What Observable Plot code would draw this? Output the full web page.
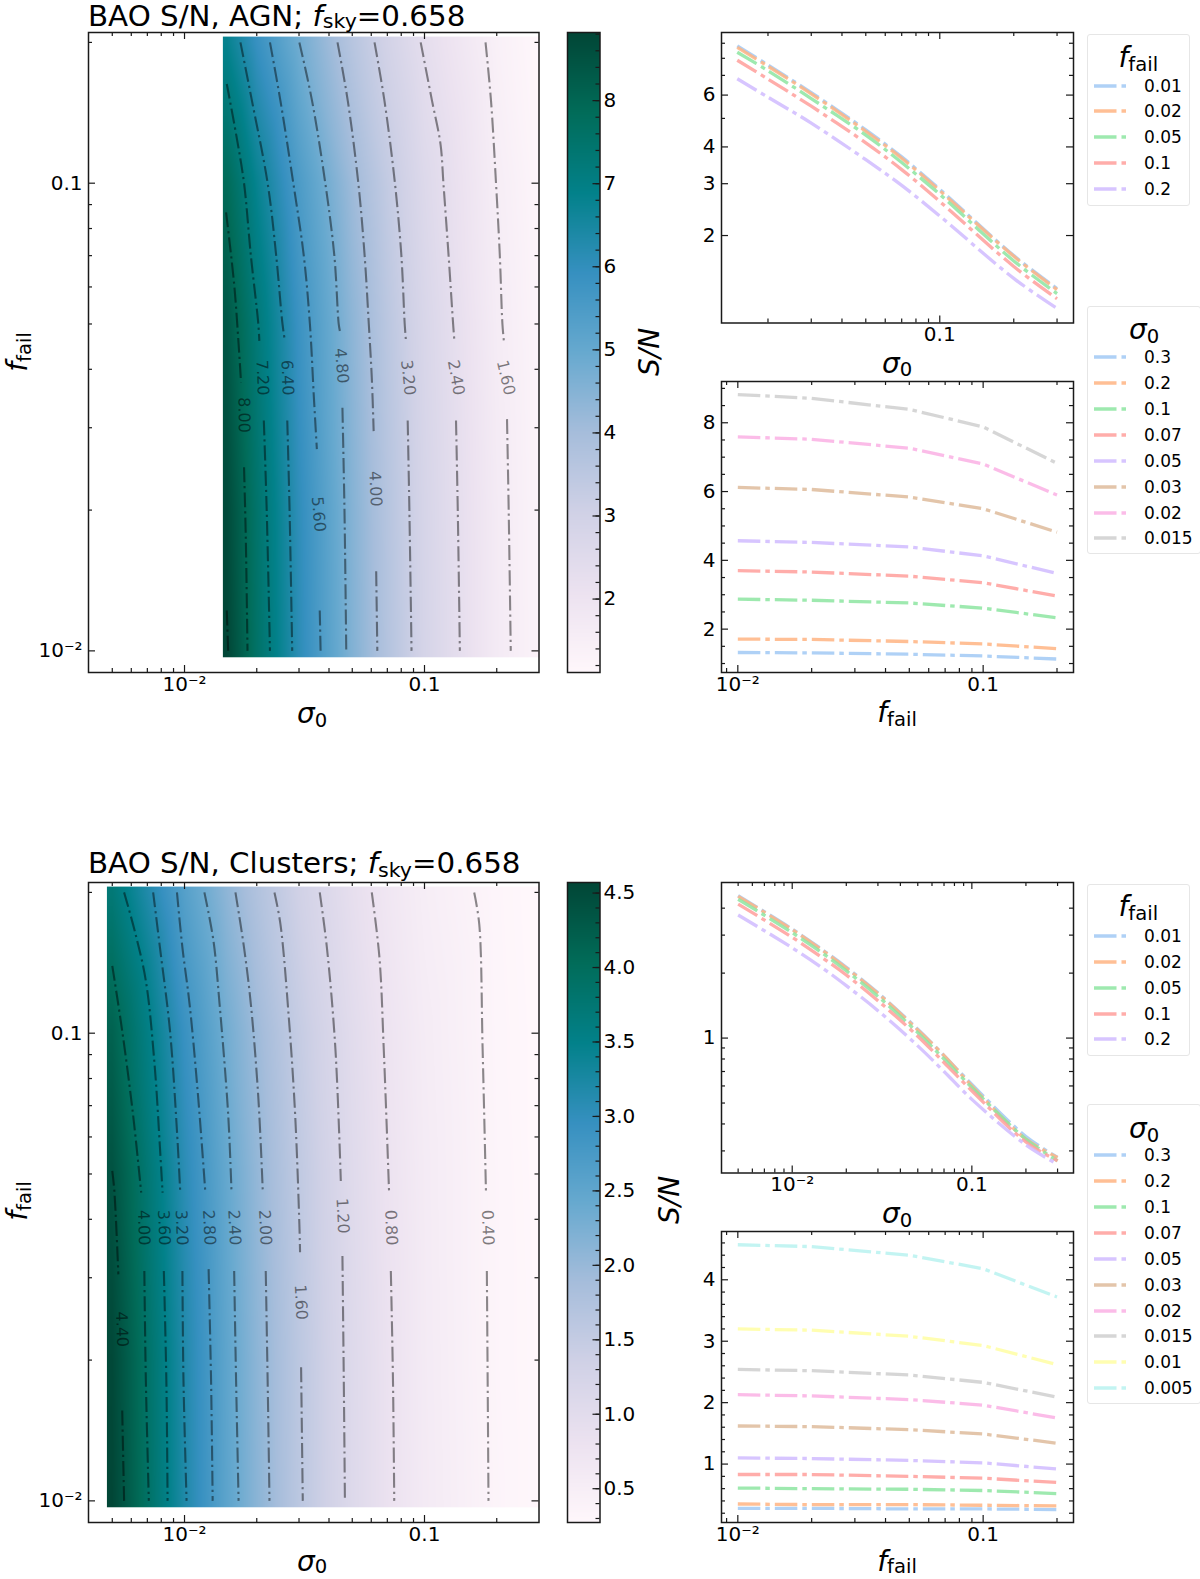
<!DOCTYPE html>
<html>
<head>
<meta charset="utf-8">
<script src="https://cdn.jsdelivr.net/npm/d3@7"></script>
<script src="https://cdn.jsdelivr.net/npm/@observablehq/plot@0.6"></script>
<style>
  html, body { margin: 0; padding: 0; background: #fff; }
  #page { position: relative; width: 1200px; height: 1579px; overflow: hidden; font-family: "DejaVu Sans", sans-serif; color: #000; }
  .txt { position: absolute; white-space: nowrap; line-height: 0.8; }
  .txt sub { font-size: 0.7em; line-height: 0; vertical-align: baseline; position: relative; top: 0.2em; }
  .txt sub.low { top: 0.12em; }
  .legend { position: absolute; box-sizing: border-box; border: 1px solid #e6e6e6; border-radius: 3px; background: #fff; }
</style>
</head>
<body>
<div id="page"></div>
<script>
// values
const fFail = [0.01, 0.02, 0.05, 0.1, 0.2];
const pastel = ["#a1c9f4", "#ffb482", "#8de5a1", "#ff9f9b", "#d0bbff", "#debb9b", "#fab0e4", "#cfcfcf", "#fffea3", "#b9f2f0"];
const puBuGn = ["#fff7fb", "#ece2f0", "#d0d1e6", "#a6bddb", "#67a9cf", "#3690c0", "#02818a", "#016c59", "#014636"];

// S/N per sigma0 (rows), one column per fFail
const agnSigma = [0.3, 0.2, 0.1, 0.07, 0.05, 0.03, 0.02, 0.015];
const agnSn = [
  [1.32, 1.31, 1.27, 1.22, 1.13],
  [1.71, 1.70, 1.64, 1.57, 1.43],
  [2.87, 2.84, 2.76, 2.61, 2.33],
  [3.70, 3.66, 3.54, 3.35, 2.96],
  [4.57, 4.52, 4.39, 4.13, 3.62],
  [6.12, 6.06, 5.84, 5.50, 4.82],
  [7.59, 7.52, 7.26, 6.80, 5.90],
  [8.82, 8.71, 8.39, 7.88, 6.82]
];
const clusterSigma = [0.3, 0.2, 0.1, 0.07, 0.05, 0.03, 0.02, 0.015, 0.01, 0.005];
const clusterSn = [
  [0.28, 0.28, 0.27, 0.27, 0.26],
  [0.35, 0.34, 0.34, 0.33, 0.32],
  [0.61, 0.60, 0.59, 0.57, 0.52],
  [0.83, 0.83, 0.80, 0.77, 0.70],
  [1.10, 1.09, 1.06, 1.02, 0.92],
  [1.62, 1.61, 1.56, 1.49, 1.34],
  [2.13, 2.11, 2.05, 1.96, 1.75],
  [2.54, 2.52, 2.45, 2.33, 2.09],
  [3.20, 3.18, 3.08, 2.93, 2.62],
  [4.57, 4.54, 4.40, 4.18, 3.72]
];

// contours: [sigma0, fFail] pieces, broken where the inline label sits
const agnC160 = [[[.1796,.2],[.1893,.15],[.1986,.1],[.206,.07],[.2112,.05],[.2146,.0455]], [[.2207,.0313],[.2243,.02],[.2288,.01]]];
const agnC240 = [[[.0964,.2],[.1075,.15],[.1166,.1212],[.1199,.1],[.126,.07],[.1316,.05],[.1332,.046]], [[.1353,.0311],[.1376,.02],[.1404,.01]]];
const agnC320 = [[[.0619,.2],[.0681,.15],[.0753,.1],[.0801,.07],[.0827,.05],[.0837,.046]], [[.0851,.0311],[.0865,.02],[.0883,.01]]];
const agnC400 = [[[.0434,.2],[.0479,.15],[.053,.1],[.0563,.07],[.0586,.05],[.0603,.0384],[.0614,.0295]], [[.0629,.0148],[.0636,.01]]];
const agnC480 = [[[.0301,.2],[.034,.15],[.0386,.1],[.0421,.07],[.0439,.05],[.0444,.0483]], [[.0455,.0331],[.0464,.02],[.0472,.01]]];
const agnC560 = [[[.0227,.2],[.0251,.15],[.0284,.1],[.0314,.07],[.0333,.05],[.0346,.0348],[.0356,.027]], [[.0366,.0122],[.0369,.01]]];
const agnC640 = [[[.0171,.2],[.0191,.15],[.0222,.1],[.0241,.07],[.0256,.05],[.0262,.046]], [[.0268,.0311],[.0274,.02],[.0281,.01]]];
const agnC720 = [[[.015,.163],[.0164,.1273],[.0177,.1],[.0189,.07],[.0203,.05],[.0205,.046]], [[.0214,.0311],[.022,.02],[.0227,.01]]];
const agnC800 = [[[.0149,.0866],[.0161,.0608],[.0168,.0453],[.0172,.0375]], [[.0177,.0247],[.018,.0175],[.0183,.01]]];
const agnC880 = [[[.015,.0122],[.0152,.01]]];
const agnContours = [agnC160, agnC240, agnC320, agnC400, agnC480, agnC560, agnC640, agnC720, agnC800, agnC880];
const agnLabelText = ["8.00", "7.20", "6.40", "5.60", "4.80", "4.00", "3.20", "2.40", "1.60"];
const agnLabelSigma = [.01767, .0211, .0268, .03614, .0451, .06235, .0854, .1353, .2181];
const agnLabelFail = [.03195, .0384, .0384, .0196, .0407, .0222, .0384, .0384, .0384];
const agnLabelRotate = [89, 88, 88, 85, 85, 87, 84, 80, 77];

const cluC040 = [[[.1611,.2],[.1691,.1711],[.1746,.0932],[.1804,.0456]], [[.1819,.031],[.1833,.0181],[.1848,.01]]];
const cluC080 = [[[.0603,.2],[.0649,.1451],[.0676,.0932],[.0712,.0456]], [[.0724,.031],[.0739,.0181],[.0748,.01]]];
const cluC120 = [[[.0366,.2],[.0392,.1524],[.0425,.0932],[.0448,.0483]], [[.0455,.0334],[.0461,.0181],[.0466,.01]]];
const cluC160 = [[[.0237,.2],[.0251,.1711],[.0272,.108],[.0289,.0671],[.0301,.039],[.0303,.034]], [[.0306,.0193],[.0311,.01]]];
const cluC200 = [[[.0163,.2],[.0177,.1524],[.0189,.1153],[.0203,.0729],[.0212,.0456]], [[.0218,.031],[.0222,.0181],[.0226,.01]]];
const cluC240 = [[[.0121,.2],[.0132,.1576],[.014,.1153],[.0152,.0671],[.0157,.0456]], [[.0161,.031],[.0164,.0181],[.0168,.01]]];
const cluC280 = [[[.0093,.2],[.0098,.1524],[.0105,.1153],[.0114,.0729],[.0122,.046]], [[.0126,.0313],[.0129,.0181],[.0131,.01]]];
const cluC320 = [[[.0074,.2],[.0079,.1524],[.0087,.1011],[.0093,.0618],[.0096,.0456]], [[.0098,.031],[.0099,.0181],[.0102,.01]]];
const cluC360 = [[[.0056,.2],[.0062,.1655],[.0069,.1294],[.0075,.0859],[.0079,.0569],[.0081,.0456]], [[.0082,.031],[.0084,.0181],[.0085,.01]]];
const cluC400 = [[[.005,.1393],[.0055,.1011],[.0061,.0671],[.0066,.0456]], [[.0068,.031],[.0069,.0181],[.0071,.01]]];
const cluC440 = [[[.005,.0508],[.0051,.046],[.0053,.0305]], [[.0055,.0156],[.0056,.01]]];
const cluContours = [cluC040, cluC080, cluC120, cluC160, cluC200, cluC240, cluC280, cluC320, cluC360, cluC400, cluC440];
const cluLabelText = ["4.40", "4.00", "3.60", "3.20", "2.80", "2.40", "2.00", "1.60", "1.20", "0.80", "0.40"];
const cluLabelSigma = [.00548, .00676, .0082, .00972, .01264, .01611, .02165, .0305, .0455, .0725, .1833];
const cluLabelFail = [.02328, .0384, .0384, .0384, .0384, .0384, .0384, .0266, .0407, .0384, .0384];
const cluLabelRotate = [88, 88, 88, 88, 87, 87, 87, 87, 87, 88, 88];

// ticks
const decadeMinor = [.02, .03, .04, .05, .06, .07, .08, .09];
const heatXMajor = [.01, .1];
const heatXMinor = [.005, .006, .007, .008, .009, ...decadeMinor, .2];
const heatYMajor = [.01, .1];
const heatYMinor = [...decadeMinor, .2];
const lowXMajor = [.01, .1];
const lowXMinor = [.009, ...decadeMinor, .2];
const agnTopYMajor = [2, 3, 4, 6];
const agnTopYMinor = [5, 7, 8, 9];
const agnLowYMajor = [2, 4, 6, 8];
const agnLowYMinor = [1, 1.5, 2.5, 3, 3.5, 4.5, 5, 5.5, 6.5, 7, 7.5, 8.5, 9];
const cluTopYMajor = [1];
const cluTopYMinor = [.3, .4, .5, .6, .7, .8, .9, 2, 3, 4];
const cluLowYMajor = [1, 2, 3, 4];
const cluLowYMinor = [.2, .4, .6, .8, 1.2, 1.4, 1.6, 1.8, 2.2, 2.4, 2.6, 2.8, 3.2, 3.4, 3.6, 3.8, 4.2, 4.4, 4.6];
const agnBarMajor = [2, 3, 4, 5, 6, 7, 8];
const cluBarMajor = [.5, 1, 1.5, 2, 2.5, 3, 3.5, 4, 4.5];

const INK = "#1a1a1a";
const ML = 70, MR = 60, MT = 10, MB = 36;
const page = document.getElementById("page");

function logLabel(d) {
  return d === 0.01 ? "10\u207B\u00B2" : String(d);
}

function addPanel(left, top, width, height, options) {
  const plot = Plot.plot({
    width: width + ML + MR,
    height: height + MT + MB,
    marginLeft: ML,
    marginRight: MR,
    marginTop: MT,
    marginBottom: MB,
    style: { background: "transparent", fontFamily: "DejaVu Sans", fontSize: "20px", color: "#000" },
    ...options
  });
  plot.style.position = "absolute";
  plot.style.left = left - ML + "px";
  plot.style.top = top - MT + "px";
  page.append(plot);
}

function inwardTicks(xMajor, xMinor, yMajor, yMinor, w, h) {
  const tick = { stroke: INK, strokeWidth: 1.2 };
  return [
    Plot.ruleX(xMajor, { ...tick, insetTop: h - 7 }),
    Plot.ruleX(xMajor, { ...tick, insetBottom: h - 7 }),
    Plot.ruleX(xMinor, { ...tick, insetTop: h - 4 }),
    Plot.ruleX(xMinor, { ...tick, insetBottom: h - 4 }),
    Plot.ruleY(yMajor, { ...tick, insetLeft: w - 7 }),
    Plot.ruleY(yMajor, { ...tick, insetRight: w - 7 }),
    Plot.ruleY(yMinor, { ...tick, insetLeft: w - 4 }),
    Plot.ruleY(yMinor, { ...tick, insetRight: w - 4 })
  ];
}

function axes(xMajor, yMajor, yFormat) {
  return [
    Plot.axisX(xMajor, { anchor: "bottom", tickSize: 0, tickPadding: 4, label: null, tickFormat: logLabel, fontSize: 20 }),
    Plot.axisY(yMajor, { anchor: "left", tickSize: 0, tickPadding: 6, label: null, tickFormat: yFormat, fontSize: 20 })
  ];
}

function heatPanel(top, sigma, sn, contours, labelText, labelSigma, labelFail, labelRotate, sigmaMin, colorDomain) {
  const w = 450.5, h = 640;
  // the image runs a little past the outermost grid values, holding their colour
  const rows = [[0.31, sn[0]], ...sigma.map((s, i) => [s, sn[i]]), [sigmaMin * 0.97, sn[sn.length - 1]]];
  const cells = rows.flatMap(([s, vals]) => [
    { s, f: 0.0094, v: vals[0] },
    ...fFail.map((f, j) => ({ s, f, v: vals[j] })),
    { s, f: 0.212, v: vals[vals.length - 1] }
  ]);
  const pieces = contours.flatMap((c, i) => c.flatMap((seg, j) => seg.map(([s, f]) => ({ s, f, id: i + "-" + j }))));
  const labels = labelText.map((t, i) => ({ t, s: labelSigma[i], f: labelFail[i], r: labelRotate[i] }));
  addPanel(88, top, w, h, {
    x: { type: "log", domain: [0.00398, 0.3] },
    y: { type: "log", domain: [0.00899, 0.21] },
    color: { type: "linear", domain: colorDomain, interpolate: d3.piecewise(d3.interpolateRgb, puBuGn) },
    marks: [
      Plot.raster(cells, { x: "s", y: "f", fill: "v", interpolate: "barycentric", x1: sigmaMin, x2: 0.3, y1: 0.2058, y2: 0.00969, pixelSize: 1 }),
      Plot.line(pieces, { x: "s", y: "f", z: "id", curve: "catmull-rom", stroke: "#000", strokeOpacity: 0.45, strokeWidth: 2.1, strokeLinecap: "butt", strokeDasharray: "15,4,2.2,4" }),
      Plot.text(labels, { x: "s", y: "f", text: "t", rotate: "r", fontSize: 16, fill: "#000", fillOpacity: 0.5 }),
      ...inwardTicks(heatXMajor, heatXMinor, heatYMajor, heatYMinor, w, h),
      ...axes(heatXMajor, heatYMajor, logLabel),
      Plot.frame({ stroke: INK, strokeWidth: 1.5 })
    ]
  });
}

function colorBar(top, domain, majors, minorStep, format) {
  const w = 32.5, h = 640;
  const minors = d3.range(Math.ceil(domain[0] / minorStep), Math.floor(domain[1] / minorStep) + 1).map((k) => k * minorStep);
  addPanel(566.5, top, w, h, {
    x: { domain: [0, 1], axis: null },
    y: { domain, axis: null },
    color: { type: "linear", domain, interpolate: d3.piecewise(d3.interpolateRgb, puBuGn) },
    marks: [
      Plot.raster({ fill: (x, y) => y, x1: 0, x2: 1, y1: domain[1], y2: domain[0], pixelSize: 1 }),
      Plot.ruleY(minors, { stroke: INK, strokeWidth: 1.2, insetLeft: w - 4 }),
      Plot.ruleY(majors, { stroke: INK, strokeWidth: 1.2, insetLeft: w - 7 }),
      Plot.axisY(majors, { anchor: "right", tickSize: 0, tickPadding: 3.5, label: null, tickFormat: format, fontSize: 20 }),
      Plot.frame({ stroke: INK, strokeWidth: 1.5 })
    ]
  });
}

const dashDot = "22.5,5,4.5,5";
const lineOpacity = 0.85;

// S/N against sigma0, one line per fFail
function sigmaLines(top, sigma, sn, xDomain, yDomain, xMajor, xMinor, yMajor, yMinor, yFormat) {
  const w = 352, h = 290.5;
  const lines = fFail.flatMap((f, j) =>
    d3.sort(sigma.map((s, i) => ({ s, v: sn[i][j], f, color: pastel[j] })), (d) => d.s));
  addPanel(721, top, w, h, {
    x: { type: "log", domain: xDomain },
    y: { type: "log", domain: yDomain },
    marks: [
      Plot.line(lines, { x: "s", y: "v", z: "f", curve: "catmull-rom", stroke: "color", strokeOpacity: lineOpacity, strokeWidth: 3.3, strokeLinecap: "butt", strokeDasharray: dashDot }),
      ...inwardTicks(xMajor, xMinor, yMajor, yMinor, w, h),
      ...axes(xMajor, yMajor, yFormat),
      Plot.frame({ stroke: INK, strokeWidth: 1.5 })
    ]
  });
}

// S/N against fFail, one line per sigma0
function failLines(top, sigma, sn, yDomain, yMajor, yMinor) {
  const w = 352, h = 291;
  const lines = sigma.flatMap((s, i) => fFail.map((f, j) => ({ f, v: sn[i][j], s, color: pastel[i] })));
  addPanel(721, top, w, h, {
    x: { type: "log", domain: [0.00858, 0.2335] },
    y: { domain: yDomain },
    marks: [
      Plot.line(lines, { x: "f", y: "v", z: "s", stroke: "color", strokeOpacity: lineOpacity, strokeWidth: 3.3, strokeLinecap: "butt", strokeDasharray: dashDot }),
      ...inwardTicks(lowXMajor, lowXMinor, yMajor, yMinor, w, h),
      ...axes(lowXMajor, yMajor, String),
      Plot.frame({ stroke: INK, strokeWidth: 1.5 })
    ]
  });
}

function addText(html, cx, cy, size, rotate) {
  const el = document.createElement("div");
  el.className = "txt";
  el.innerHTML = html;
  el.style.left = cx + "px";
  el.style.top = cy + "px";
  el.style.fontSize = size + "px";
  el.style.transform = `translate(-50%,-50%) rotate(${rotate || 0}deg)`;
  page.append(el);
}

function addTitle(html, left, cy, size, stretch) {
  const el = document.createElement("div");
  el.className = "txt";
  el.innerHTML = html;
  el.style.left = left + "px";
  el.style.top = cy + "px";
  el.style.fontSize = size + "px";
  el.style.transformOrigin = "left center";
  el.style.transform = `translateY(-50%) scaleX(${stretch || 1})`;
  page.append(el);
}

function addLegend(title, titleY, entries, rowYs, top, bottom, right) {
  const box = document.createElement("div");
  box.className = "legend";
  box.style.left = "1087px";
  box.style.top = top + "px";
  box.style.width = right - 1087 + "px";
  box.style.height = bottom - top + "px";
  page.append(box);
  addText(title, 1087 + (right - 1087) / 2, titleY, 28);
  entries.forEach((entry, i) => {
    const svg = d3.create("svg").attr("width", 32).attr("height", 6)
      .style("position", "absolute").style("left", "1094px").style("top", rowYs[i] - 3 + "px");
    svg.append("line").attr("x1", 0).attr("x2", 32).attr("y1", 3).attr("y2", 3)
      .attr("stroke", pastel[i]).attr("stroke-opacity", lineOpacity).attr("stroke-width", 3.3).attr("stroke-dasharray", dashDot);
    page.append(svg.node());
    addTitle(String(entry), 1144, rowYs[i] + 0.8, 17);
  });
}

const sigmaTex = "<i>\u03C3</i><sub>0</sub>";
const failTex = "<i>f</i><sub>fail</sub>";
const sigmaLow = "<i>\u03C3</i><sub class='low'>0</sub>";
const failLow = "<i>f</i><sub class='low'>fail</sub>";

// AGN
const agnColor = [1.116, 8.82];
heatPanel(31.7, agnSigma, agnSn, agnContours, agnLabelText, agnLabelSigma, agnLabelFail, agnLabelRotate, 0.01445, agnColor);
colorBar(31.7, agnColor, agnBarMajor, 0.2, (d) => String(d));
sigmaLines(32, agnSigma, agnSn, [0.01294, 0.35], [1.009, 9.79], [.1], [...decadeMinor, .2, .3], agnTopYMajor, agnTopYMinor, String);
failLines(380.5, agnSigma, agnSn, [0.739, 9.2], agnLowYMajor, agnLowYMinor);

// Clusters
const cluColor = [0.273, 4.571];
heatPanel(881.7, clusterSigma, clusterSn, cluContours, cluLabelText, cluLabelSigma, cluLabelFail, cluLabelRotate, 0.00475, cluColor);
colorBar(881.7, cluColor, cluBarMajor, 0.1, d3.format(".1f"));
sigmaLines(882, clusterSigma, clusterSn, [0.00404, 0.368], [0.237, 5.26], lowXMajor, [.005, .006, .007, .008, .009, ...decadeMinor, .2, .3], cluTopYMajor, cluTopYMinor, String);
failLines(1230.7, clusterSigma, clusterSn, [0.049, 4.786], cluLowYMajor, cluLowYMinor);

// text around the panels
addTitle("BAO S/N, AGN; <i>f</i><sub class='low'>sky</sub>=0.658", 88, 16.1, 27.5, 1.066);
addTitle("BAO S/N, Clusters; <i>f</i><sub>sky</sub>=0.658", 88, 862.8, 27.5, 1.066);
addText(sigmaTex, 312, 713.6, 28);
addText(sigmaLow, 312, 1561.5, 28);
addText(failTex, 18, 352, 28, -90);
addText(failTex, 18, 1201, 28, -90);
addText("<i>S/N</i>", 650, 352, 28, -90);
addText("<i>S/N</i>", 670, 1200, 28, -90);
addText(sigmaTex, 897, 363.5, 28);
addText(failTex, 897, 713, 28);
addText(sigmaTex, 897, 1213.7, 28);
addText(failLow, 897, 1561.5, 28);

// legends
addLegend(failTex, 58, fFail, [85.7, 111.3, 137.3, 163.3, 189.3], 34.3, 206, 1189.5);
addLegend(sigmaTex, 330, agnSigma, [357, 383, 408.7, 434.7, 460.7, 486.7, 512.7, 538.3], 305.7, 554, 1201);
addLegend(failTex, 907, fFail, [935.7, 961.7, 987.7, 1013.7, 1039.3], 884.3, 1056, 1189.5);
addLegend(sigmaTex, 1129, clusterSigma, [1155, 1181, 1207, 1232.7, 1258.7, 1284.7, 1310.7, 1336.3, 1362.3, 1388.3], 1104, 1404, 1201);
</script>
</body>
</html>
